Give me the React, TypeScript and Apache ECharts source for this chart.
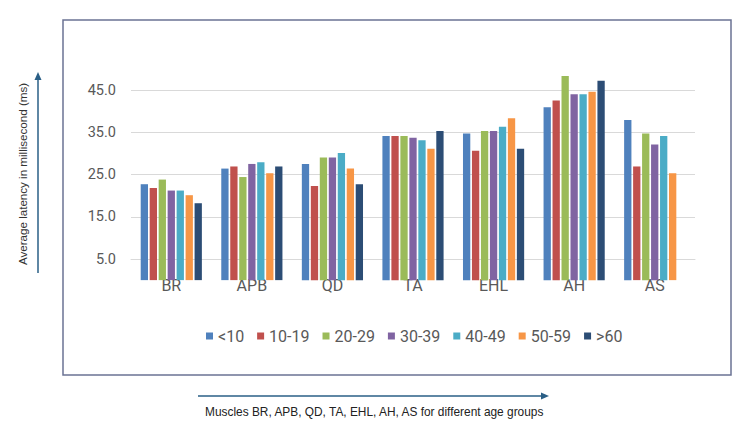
import React, { useEffect, useRef } from "react";
import * as echarts from "echarts";

const muscles = ["BR", "APB", "QD", "TA", "EHL", "AH", "AS"];
const ageGroups = ["<10", "10-19", "20-29", "30-39", "40-49", "50-59", ">60"];
const colors = ["#4F81BD", "#C0504D", "#9BBB59", "#8064A2", "#4BACC6", "#F79646", "#2C4D75"];

const under10 = [22.7, 26.4, 27.5, 34.1, 34.7, 40.9, 37.9];
const age10to19 = [21.8, 26.9, 22.3, 34.1, 30.6, 42.5, 26.9];
const age20to29 = [23.8, 24.4, 29.0, 34.1, 35.3, 48.3, 34.7];
const age30to39 = [21.2, 27.5, 29.0, 33.7, 35.3, 44.0, 32.1];
const age40to49 = [21.2, 27.9, 30.1, 33.1, 36.3, 44.0, 34.1];
const age50to59 = [20.1, 25.3, 26.4, 31.1, 38.3, 44.6, 25.3];
const over60 = [18.2, 26.9, 22.7, 35.3, 31.1, 47.2, null];

const seriesValues = [under10, age10to19, age20to29, age30to39, age40to49, age50to59, over60];
const yTicks = [5, 15, 25, 35, 45];

const narrowFont = "'Liberation Sans Narrow', Roboto, 'Liberation Sans', sans-serif";

export default function App() {
  const ref = useRef<HTMLDivElement>(null);
  useEffect(() => {
    document.body.style.margin = "0";
    if (!ref.current) return;
    const chart = echarts.init(ref.current, null, { renderer: "svg" });
    const arrowColor = "#2a5f86";
    chart.setOption({
      animation: false,
      backgroundColor: "#ffffff",
      grid: { left: 131, right: 55, top: 90, height: 169, containLabel: false },
      legend: {
        top: 323,
        left: 201,
        icon: "rect",
        itemWidth: 7,
        itemHeight: 7,
        itemGap: 13,
        data: ageGroups,
        textStyle: { fontFamily: narrowFont, fontSize: 16, color: "#595959" },
      },
      xAxis: {
        type: "category",
        data: muscles,
        axisTick: { show: false },
        axisLine: { lineStyle: { color: "#d9d9d9", width: 1 } },
        axisLabel: {
          margin: 18,
          fontFamily: narrowFont,
          fontSize: 16,
          color: "#595959",
        },
      },
      yAxis: {
        type: "value",
        min: yTicks[0],
        max: yTicks[yTicks.length - 1],
        interval: 10,
        axisLine: { show: false },
        axisTick: { show: false },
        splitLine: { lineStyle: { color: "#d9d9d9", width: 1 } },
        axisLabel: {
          margin: 15,
          fontFamily: narrowFont,
          fontSize: 14.5,
          color: "#595959",
          formatter: (v: number) => v.toFixed(1),
        },
      },
      series: ageGroups.map((name, i) => ({
        name,
        type: "bar",
        data: seriesValues[i],
        barWidth: 7.3,
        barGap: "23%",
        clip: false,
        itemStyle: { color: colors[i] },
      })),
      graphic: [
        {
          type: "rect",
          shape: { x: 63, y: 20, width: 668, height: 355 },
          style: { fill: "none", stroke: "#6b7394", lineWidth: 1.5 },
          silent: true,
        },
        {
          type: "line",
          shape: { x1: 38, y1: 273, x2: 38, y2: 79 },
          style: { stroke: arrowColor, lineWidth: 1.5 },
        },
        {
          type: "polygon",
          shape: { points: [[38, 72], [34.5, 80], [41.5, 80]] },
          style: { fill: arrowColor },
        },
        {
          type: "line",
          shape: { x1: 198, y1: 396, x2: 542, y2: 396 },
          style: { stroke: arrowColor, lineWidth: 1.5 },
        },
        {
          type: "polygon",
          shape: { points: [[549, 396], [541, 392.5], [541, 399.5]] },
          style: { fill: arrowColor },
        },
        {
          type: "text",
          x: 22,
          y: 174,
          rotation: Math.PI / 2,
          style: {
            text: "Average latency in millisecond (ms)",
            fontFamily: "'Liberation Sans', sans-serif",
            fontSize: 11.6,
            fill: "#333333",
            textAlign: "center",
            textVerticalAlign: "middle",
          },
        },
        {
          type: "text",
          x: 205,
          y: 412,
          style: {
            text: "Muscles BR, APB, QD, TA, EHL, AH, AS for different age groups",
            fontFamily: "'Liberation Sans', sans-serif",
            fontSize: 11.9,
            fill: "#222222",
            textAlign: "left",
            textVerticalAlign: "middle",
          },
        },
      ],
    });
    return () => chart.dispose();
  }, []);
  return <div ref={ref} style={{ width: 750, height: 432 }} />;
}
